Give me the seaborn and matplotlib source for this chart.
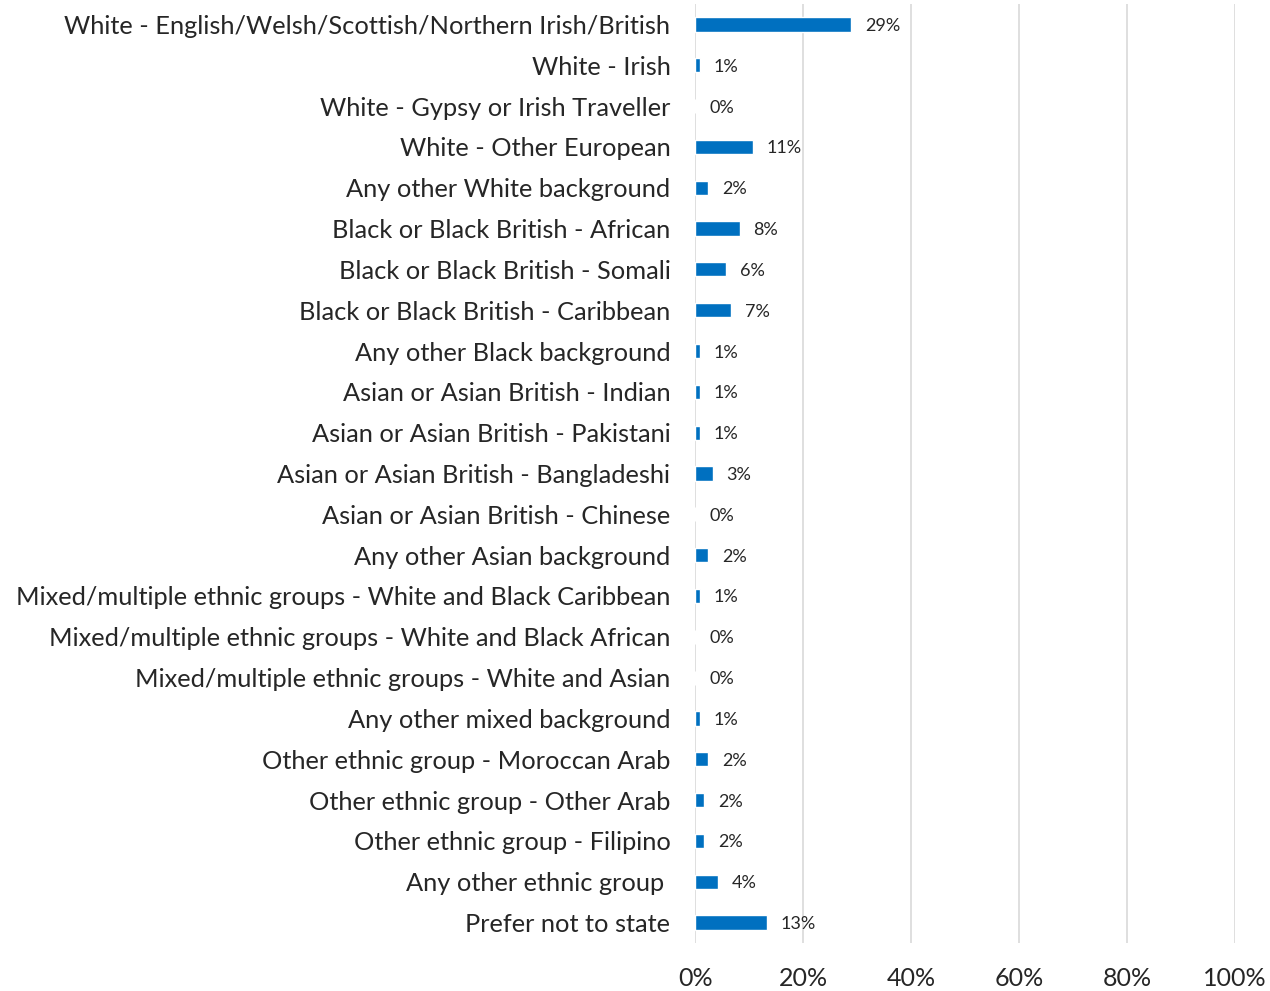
import numpy as np
import pandas as pd
import matplotlib.pyplot as plt
import seaborn as sns

categories = [
    "White - English/Welsh/Scottish/Northern Irish/British",
    "White - Irish",
    "White - Gypsy or Irish Traveller",
    "White - Other European",
    "Any other White background",
    "Black or Black British - African",
    "Black or Black British - Somali",
    "Black or Black British - Caribbean",
    "Any other Black background",
    "Asian or Asian British - Indian",
    "Asian or Asian British - Pakistani",
    "Asian or Asian British - Bangladeshi",
    "Asian or Asian British - Chinese",
    "Any other Asian background",
    "Mixed/multiple ethnic groups - White and Black Caribbean",
    "Mixed/multiple ethnic groups - White and Black African",
    "Mixed/multiple ethnic groups - White and Asian",
    "Any other mixed background",
    "Other ethnic group - Moroccan Arab",
    "Other ethnic group - Other Arab",
    "Other ethnic group - Filipino",
    "Any other ethnic group ",
    "Prefer not to state",
]
# percentages
values = [28.9, 0.8, 0.0, 10.6, 2.4, 8.2, 5.7, 6.6, 0.8, 0.8, 0.8, 3.2, 0.0,
          2.4, 0.8, 0.0, 0.0, 0.8, 2.4, 1.6, 1.6, 4.1, 13.2]
xticks = [0, 20, 40, 60, 80, 100]

df = pd.DataFrame({"group": categories, "pct": values})

sns.set_style("white")
plt.rcParams["font.family"] = ["Lato", "DejaVu Sans"]

fig = plt.figure(figsize=(12.7, 9.91), dpi=100)
ax = fig.add_axes([0.5476, 0.0484, 0.4248, 0.9476])

sns.barplot(data=df, x="pct", y="group", orient="h", color="#0070C0",
            saturation=1, width=0.35, ax=ax)

labels = ax.bar_label(ax.containers[0], labels=[f"{v:.0f}%" for v in values],
                      padding=10, fontsize=13, color="#262626")
for t in labels:
    t.set_va("center_baseline")

ax.set_xlim(0, 100)
ax.set_ylim(len(categories) - 0.5, -0.5)
ax.set_xticks(xticks)
ax.set_xticklabels([f"{t}%" for t in xticks], fontsize=18, color="#262626")
ax.tick_params(axis="y", labelsize=18.3, length=0, pad=18, colors="#262626")
ax.tick_params(axis="x", length=0, pad=17)
ax.set_xlabel("")
ax.set_ylabel("")
ax.grid(axis="x", color="#D9D9D9", linewidth=1.2)
ax.set_axisbelow(True)
for s in ax.spines.values():
    s.set_visible(False)

fig.savefig("out.png", dpi=100)
